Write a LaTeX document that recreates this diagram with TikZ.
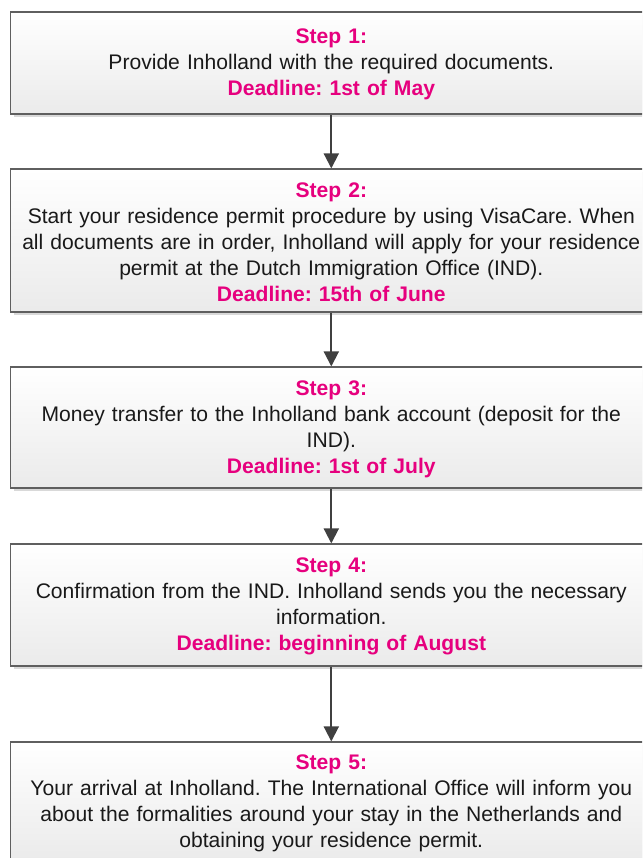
\documentclass[tikz,border=0pt]{standalone}
\usepackage{fontspec}
\setmainfont{Liberation Sans}
\usetikzlibrary{arrows.meta,shadows}
\definecolor{inpink}{HTML}{E6007E}
\definecolor{boxedge}{HTML}{5F5F5F}
\definecolor{arrowgray}{HTML}{404040}
\tikzset{
  ->/.style={draw=arrowgray,line width=2pt,-{Triangle[width=15pt,length=15pt]}},
  stepbox/.style={draw=boxedge,line width=1.2pt,top color=white,bottom color=black!8,
    drop shadow={shadow xshift=3pt,shadow yshift=-3pt,fill=black!15,opacity=1},
    text width=636pt,inner xsep=2.5pt,inner ysep=0pt,align=center}
}
\tikzstyle{every node}=[color=black!90,font=\fontsize{21.1}{26}\selectfont\frenchspacing]
\newcommand{\steptitle}[1]{\textcolor{inpink}{\textbf{#1}}}
\newcommand{\stephead}[1]{\rule{0pt}{17.5pt}\steptitle{#1}}

\begin{document}
\begin{tikzpicture}[x=1pt,y=1pt]
    \useasboundingbox (0,0) rectangle (642,-858);
    \clip (0,0) rectangle (642,-858);
    \node[stepbox,minimum height=102pt] (s1) at (331.3,-63)
      {\stephead{Step 1:}\\ Provide Inholland with the required documents.\\ \steptitle{Deadline: 1st of May}};
    \node[stepbox,minimum height=143pt] (s2) at (331.3,-240.5)
      {\stephead{Step 2:}\\ Start your residence permit procedure by using VisaCare. When\\ all documents are in order, Inholland will apply for your residence\\ permit at the Dutch Immigration Office (IND).\\ \steptitle{Deadline: 15th of June}};
    \node[stepbox,minimum height=121pt] (s3) at (331.3,-427.5)
      {\stephead{Step 3:}\\ Money transfer to the Inholland bank account (deposit for the\\ IND).\\ \steptitle{Deadline: 1st of July}};
    \node[stepbox,minimum height=122pt] (s4) at (331.3,-605)
      {\stephead{Step 4:}\\ Confirmation from the IND. Inholland sends you the necessary\\ information.\\ \steptitle{Deadline: beginning of August}};
    \node[stepbox,minimum height=120pt] (s5) at (331.3,-802)
      {\stephead{Step 5:}\\ Your arrival at Inholland. The International Office will inform you\\ about the formalities around your stay in the Netherlands and\\ obtaining your residence permit.};
    \draw [->] (s1) -- (s2);
    \draw [->] (s2) -- (s3);
    \draw [->] (s3) -- (s4);
    \draw [->] (s4) -- (s5);
\end{tikzpicture}
\end{document}
